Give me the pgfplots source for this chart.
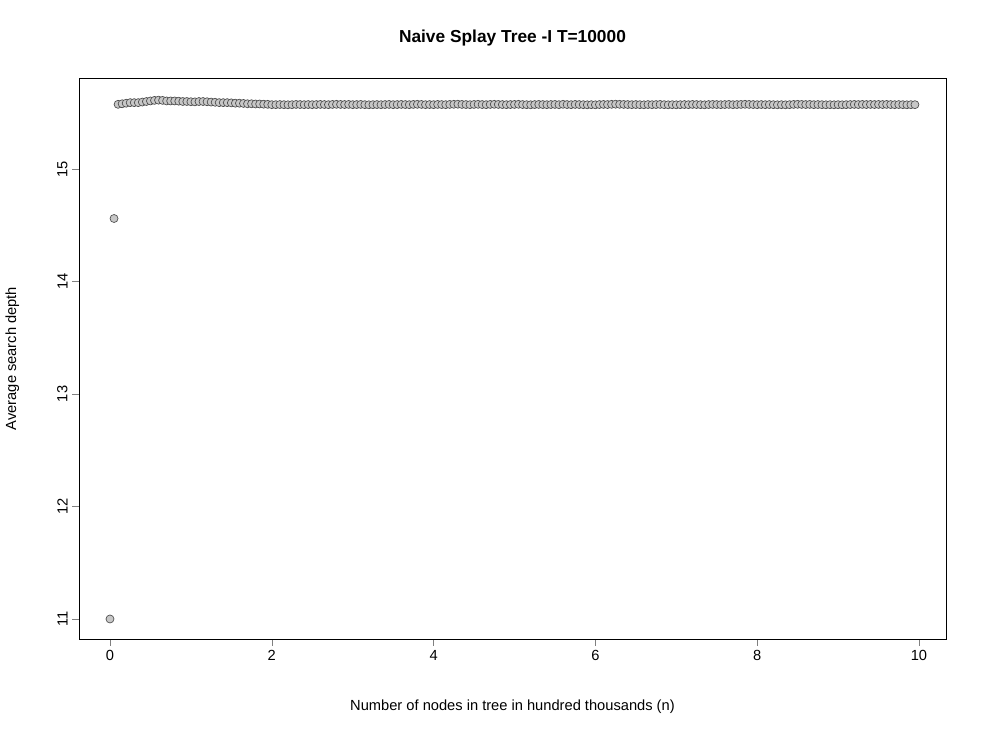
\documentclass[border=0pt]{standalone}
\usepackage{pgfplots}
\pgfplotsset{compat=1.18}
\usepackage{fontspec}
\setmainfont{Liberation Sans}
\begin{document}
\begin{tikzpicture}
\path (-59.25pt,-74.25pt) rectangle ++(740.25pt,553.5pt);
\begin{axis}[at={(0,0)},anchor=south west,scale only axis,
width=650.25pt,height=420.75pt,
xmin=-0.383,xmax=10.334,ymin=10.822,ymax=15.809,
xtick={0,2,4,6,8,10},ytick={11,12,13,14,15},
tick align=outside,major tick length=5pt,
xtick pos=bottom,ytick pos=left,
/pgf/number format/assume math mode=true,
ticklabel style={font=\fontsize{11}{13}\selectfont},
yticklabel style={rotate=90,anchor=south},
axis line style={black},
]
\addplot[only marks,mark=*,mark size=3pt,mark options={fill=black!22,draw=black!70,line width=0.5pt}] coordinates {
(0,11.0)(0.05,14.56)(0.1,15.575)(0.15,15.58)(0.2,15.585)(0.25,15.59)(0.3,15.59)(0.35,15.59)(0.4,15.595)(0.45,15.6)(0.5,15.605)(0.55,15.61)(0.6,15.612)(0.65,15.61)(0.7,15.605)(0.75,15.605)(0.8,15.605)(0.85,15.603)(0.9,15.6)(0.95,15.6)(1.0,15.598)(1.05,15.597)(1.1,15.6)(1.15,15.6)(1.2,15.598)(1.25,15.595)(1.3,15.593)(1.35,15.59)(1.4,15.59)(1.45,15.59)(1.5,15.588)(1.55,15.585)(1.6,15.585)(1.65,15.583)(1.7,15.58)(1.75,15.58)(1.8,15.578)(1.85,15.578)(1.9,15.576)(1.95,15.575)(2.0,15.572)(2.05,15.572)(2.1,15.573)(2.15,15.572)(2.2,15.571)(2.25,15.572)(2.3,15.574)(2.35,15.573)(2.4,15.572)(2.45,15.573)(2.5,15.572)(2.55,15.573)(2.6,15.574)(2.65,15.573)(2.7,15.572)(2.75,15.574)(2.8,15.575)(2.85,15.574)(2.9,15.573)(2.95,15.574)(3.0,15.572)(3.05,15.573)(3.1,15.574)(3.15,15.572)(3.2,15.571)(3.25,15.572)(3.3,15.573)(3.35,15.572)(3.4,15.573)(3.45,15.574)(3.5,15.572)(3.55,15.573)(3.6,15.574)(3.65,15.573)(3.7,15.572)(3.75,15.574)(3.8,15.575)(3.85,15.574)(3.9,15.572)(3.95,15.573)(4.0,15.572)(4.05,15.574)(4.1,15.573)(4.15,15.572)(4.2,15.574)(4.25,15.575)(4.3,15.576)(4.35,15.574)(4.4,15.573)(4.45,15.572)(4.5,15.574)(4.55,15.575)(4.6,15.573)(4.65,15.572)(4.7,15.574)(4.75,15.575)(4.8,15.574)(4.85,15.573)(4.9,15.572)(4.95,15.573)(5.0,15.574)(5.05,15.575)(5.1,15.573)(5.15,15.572)(5.2,15.571)(5.25,15.573)(5.3,15.574)(5.35,15.573)(5.4,15.572)(5.45,15.573)(5.5,15.574)(5.55,15.572)(5.6,15.575)(5.65,15.573)(5.7,15.572)(5.75,15.574)(5.8,15.573)(5.85,15.572)(5.9,15.571)(5.95,15.572)(6.0,15.571)(6.05,15.573)(6.1,15.574)(6.15,15.573)(6.2,15.575)(6.25,15.576)(6.3,15.575)(6.35,15.574)(6.4,15.573)(6.45,15.572)(6.5,15.573)(6.55,15.572)(6.6,15.571)(6.65,15.573)(6.7,15.572)(6.75,15.573)(6.8,15.574)(6.85,15.572)(6.9,15.571)(6.95,15.572)(7.0,15.571)(7.05,15.572)(7.1,15.573)(7.15,15.572)(7.2,15.574)(7.25,15.573)(7.3,15.572)(7.35,15.571)(7.4,15.573)(7.45,15.574)(7.5,15.573)(7.55,15.572)(7.6,15.573)(7.65,15.574)(7.7,15.572)(7.75,15.573)(7.8,15.574)(7.85,15.575)(7.9,15.574)(7.95,15.573)(8.0,15.572)(8.05,15.573)(8.1,15.572)(8.15,15.573)(8.2,15.572)(8.25,15.571)(8.3,15.572)(8.35,15.571)(8.4,15.572)(8.45,15.574)(8.5,15.575)(8.55,15.574)(8.6,15.573)(8.65,15.574)(8.7,15.572)(8.75,15.573)(8.8,15.572)(8.85,15.571)(8.9,15.572)(8.95,15.571)(9.0,15.572)(9.05,15.571)(9.1,15.572)(9.15,15.573)(9.2,15.574)(9.25,15.573)(9.3,15.574)(9.35,15.573)(9.4,15.574)(9.45,15.573)(9.5,15.574)(9.55,15.573)(9.6,15.574)(9.65,15.573)(9.7,15.572)(9.75,15.573)(9.8,15.572)(9.85,15.571)(9.9,15.572)(9.95,15.572)
};
\end{axis}
\node[font=\fontsize{13}{15}\selectfont\bfseries] at (325.1pt,450.75pt) {Naive Splay Tree -I T=10000};
\node[font=\fontsize{11}{13}\selectfont] at (325.1pt,-51pt) {Number of nodes in tree in hundred thousands (n)};
\node[font=\fontsize{11}{13}\selectfont,rotate=90] at (-50pt,210.4pt) {Average search depth};
\end{tikzpicture}
\end{document}
